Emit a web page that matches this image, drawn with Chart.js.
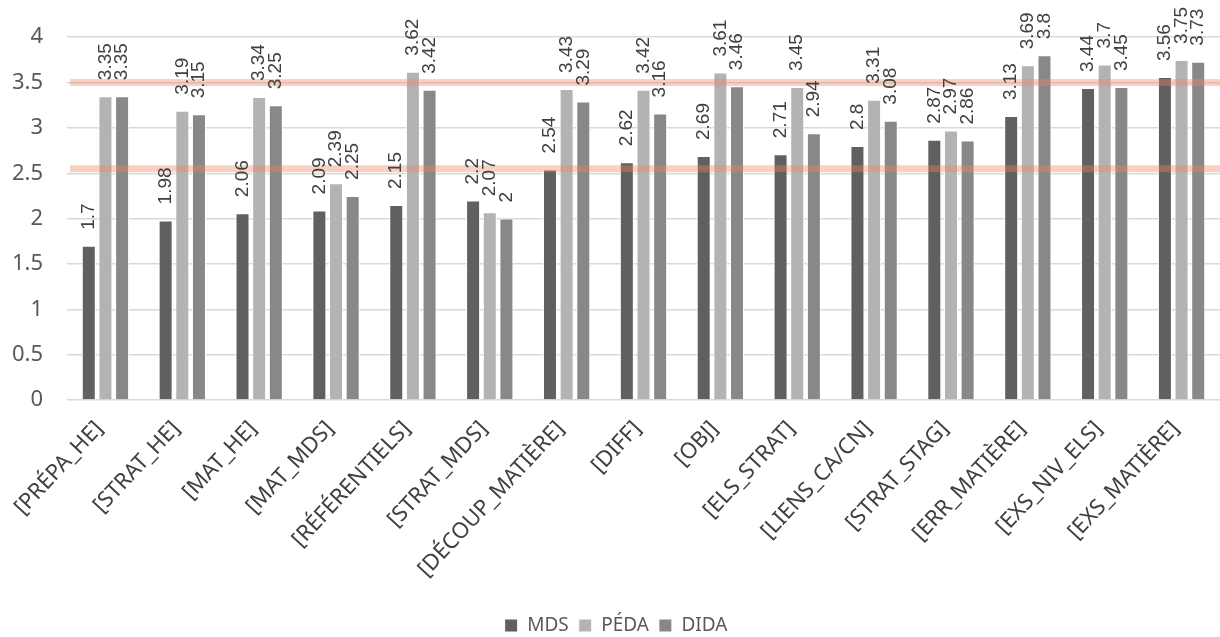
<!DOCTYPE html>
<html>
<head>
<meta charset="utf-8">
<script src="https://cdn.jsdelivr.net/npm/chart.js@4/dist/chart.umd.min.js"></script>
<style>
  html, body { margin: 0; padding: 0; background: #fff; }
  #wrap { width: 1220px; height: 637px; }
</style>
</head>
<body>
<div id="wrap"><canvas id="c"></canvas></div>
<script>
// categories and series
const categories = ["[PRÉPA_HE]", "[STRAT_HE]", "[MAT_HE]", "[MAT_MDS]", "[RÉFÉRENTIELS]", "[STRAT_MDS]",
  "[DÉCOUP_MATIÈRE]", "[DIFF]", "[OBJ]", "[ELS_STRAT]", "[LIENS_CA/CN]", "[STRAT_STAG]",
  "[ERR_MATIÈRE]", "[EXS_NIV_ELS]", "[EXS_MATIÈRE]"];
const mds  = [1.7, 1.98, 2.06, 2.09, 2.15, 2.2, 2.54, 2.62, 2.69, 2.71, 2.8, 2.87, 3.13, 3.44, 3.56];
const peda = [3.35, 3.19, 3.34, 2.39, 3.62, 2.07, 3.43, 3.42, 3.61, 3.45, 3.31, 2.97, 3.69, 3.7, 3.75];
const dida = [3.35, 3.15, 3.25, 2.25, 3.42, 2, 3.29, 3.16, 3.46, 2.94, 3.08, 2.86, 3.8, 3.45, 3.73];
const seriesNames = ["MDS", "PÉDA", "DIDA"];
// reference lines
const thresholds = [3.5, 2.55];

// value labels, rotated, above each bar
const valueLabels = {
  id: 'valueLabels',
  afterDatasetsDraw(chart) {
    const ctx = chart.ctx;
    ctx.save();
    ctx.font = '19px "Liberation Sans", Arial, sans-serif';
    ctx.fillStyle = '#404040';
    ctx.textAlign = 'left';
    ctx.textBaseline = 'middle';
    chart.data.datasets.forEach((ds, i) => {
      chart.getDatasetMeta(i).data.forEach((bar, j) => {
        ctx.save();
        ctx.translate(bar.x, bar.y - 16);
        ctx.rotate(-Math.PI / 2);
        ctx.fillText(String(ds.data[j]), 0, 0);
        ctx.restore();
      });
    });
    ctx.restore();
  }
};

// translucent orange bands
const bands = {
  id: 'bands',
  afterDatasetsDraw(chart) {
    const ctx = chart.ctx, y = chart.scales.y, area = chart.chartArea;
    ctx.save();
    ctx.fillStyle = 'rgba(240, 135, 95, 0.38)';
    thresholds.forEach(t => {
      const py = y.getPixelForValue(t);
      ctx.fillRect(area.left + 3, py - 3.5, area.right - area.left, 7);
    });
    ctx.restore();
  }
};

new Chart(document.getElementById('c'), {
  type: 'bar',
  data: {
    labels: categories,
    datasets: [
      { label: seriesNames[0], data: mds,  backgroundColor: '#606060' },
      { label: seriesNames[1], data: peda, backgroundColor: '#b3b3b3' },
      { label: seriesNames[2], data: dida, backgroundColor: '#888888' }
    ]
  },
  options: {
    responsive: true,
    maintainAspectRatio: false,
    animation: false,
    layout: { padding: { top: 22, right: 0, left: 12, bottom: -8 } },
    datasets: { bar: { categoryPercentage: 0.65, barPercentage: 0.84, borderWidth: 1, borderColor: '#ffffff' } },
    plugins: {
      legend: {
        position: 'bottom',
        labels: { boxWidth: 13, boxHeight: 13, padding: 10, color: '#595959',
          font: { size: 19, family: '"Noto Sans", sans-serif' } }
      },
      tooltip: { enabled: false }
    },
    scales: {
      x: {
        grid: { display: false },
        border: { display: false },
        afterFit(scale) { scale.paddingLeft = 0; scale.height = 206; },
        ticks: { minRotation: 47, maxRotation: 47, color: '#404040', padding: 8, labelOffset: -6,
          font: { size: 22, family: '"Noto Sans", sans-serif' } }
      },
      y: {
        min: 0, max: 4,
        grid: { color: '#d9d9d9', lineWidth: 1.5, drawTicks: false },
        border: { display: false },
        afterFit(scale) { scale.width = 55; },
        ticks: { stepSize: 0.5, color: '#595959', padding: 24,
          callback: v => String(Number(v)),
          font: { size: 22, family: '"Noto Sans", sans-serif' } }
      }
    }
  },
  plugins: [bands, valueLabels]
});
</script>
</body>
</html>
